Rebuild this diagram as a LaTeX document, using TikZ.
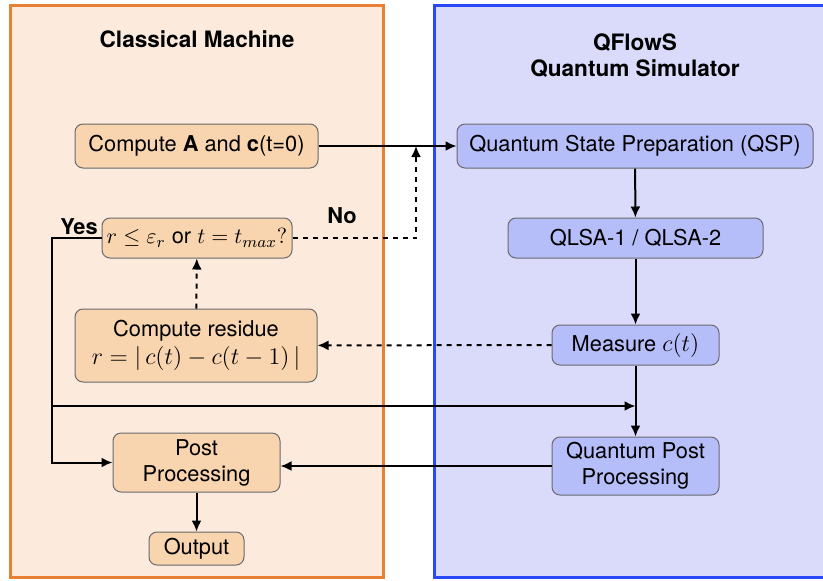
\documentclass[tikz,border=0pt]{standalone}
\usepackage{fontspec}
\setmainfont{TeX Gyre Heros}
\usetikzlibrary{arrows.meta,calc}

\definecolor{cmfill}{RGB}{252,235,221}
\definecolor{cmborder}{RGB}{232,128,52}
\definecolor{qsfill}{RGB}{218,218,250}
\definecolor{qsborder}{RGB}{40,72,250}
\definecolor{cboxfill}{RGB}{248,213,174}
\definecolor{qboxfill}{RGB}{182,190,250}
\definecolor{boxline}{RGB}{105,105,110}

% math a little larger than the sans text
\newcommand{\bigmath}[2][12.2]{{\fontsize{#1}{13}\selectfont$#2$}}

\begin{document}
\begin{tikzpicture}[
    x=0.5pt,y=-0.5pt,
    >={Latex[length=5.5pt,width=5pt]},
    panel/.style={line width=1.5pt},
    cbox/.style={draw=boxline,line width=0.5pt,fill=cboxfill,rounded corners=4pt,
      inner sep=0pt,align=center,font=\fontsize{10.9}{13}\selectfont},
    qbox/.style={cbox,fill=qboxfill},
    flow/.style={->,line width=1pt},
    back/.style={flow,dash pattern=on 2.5pt off 2.5pt},
    title/.style={align=center,font=\fontsize{11.3}{13}\selectfont\bfseries},
    tag/.style={font=\fontsize{10.9}{13}\selectfont\bfseries}
    ]
    \useasboundingbox (0,0) rectangle (823,580);

    % PANELS
    \draw[panel,draw=cmborder,fill=cmfill] (10,5) rectangle (383,577);
    \draw[panel,draw=qsborder,fill=qsfill] (434,5) rectangle (840,577);
    \node[title] (cmtitle) at (197,39) {Classical Machine};
    \node[title] (qstitle) at (635,56) {QFlowS\\Quantum Simulator};

    % CLASSICAL SIDE
    \node[cbox,minimum width=121.5pt,minimum height=22pt] (init) at (196.5,146)
        {Compute \textbf{A} and \textbf{c}(t=0)};
    \node[cbox,minimum width=95pt,minimum height=20pt] (check) at (197,238)
        {\bigmath[11.2]{r\le\varepsilon_r} or \bigmath[11.2]{t=t_{max}?}};
    \node[cbox,minimum width=121pt,minimum height=36.5pt] (resid) at (196,345.5)
        {Compute residue\\[1pt]\bigmath{r=|\,c(t)-c(t-1)\,|}};
    \node[cbox,minimum width=83.5pt,minimum height=29.5pt] (post) at (196.5,462.5)
        {Post\\Processing};
    \node[cbox,minimum width=47.5pt,minimum height=16.5pt] (output) at (196.5,548.5)
        {Output};
    \node[tag] (yes) at (79,227) {Yes};
    \node[tag] (no) at (342,216) {No};

    % QUANTUM SIDE
    \node[qbox,minimum width=178pt,minimum height=22pt] (qsp) at (635,146)
        {Quantum State Preparation (QSP)};
    \node[qbox,minimum width=127.5pt,minimum height=20pt] (qlsa) at (635.5,238)
        {QLSA-1 / QLSA-2};
    \node[qbox,minimum width=83.5pt,minimum height=20pt] (meas) at (635.5,345)
        {Measure \bigmath{c(t)}};
    \node[qbox,minimum width=83.5pt,minimum height=29pt] (qpost) at (635.5,466)
        {Quantum Post\\Processing};

    % bends
    \coordinate (nobend) at (416,238);
    \coordinate (yesbend) at (52,238);
    \coordinate (branch) at (52,406);

    % CONNECTORS
    \draw[flow] (init) -- (qsp);
    \draw[flow] (qsp) -- (qlsa);
    \draw[flow] (qlsa) -- (meas);
    \draw[flow] (meas) -- (qpost);
    \draw[flow] (qpost.west) -- (qpost.west -| post.east);
    \draw[flow] (post) -- (output);
    \draw[back] (meas) -- (resid);
    \draw[back] (resid) -- (check);
    \draw[back] (check) -- (nobend) -- (nobend |- init);
    \draw[flow] (check) -- (yesbend) |- (post);
    \draw[flow] (branch) -- (branch -| meas);
\end{tikzpicture}
\end{document}
